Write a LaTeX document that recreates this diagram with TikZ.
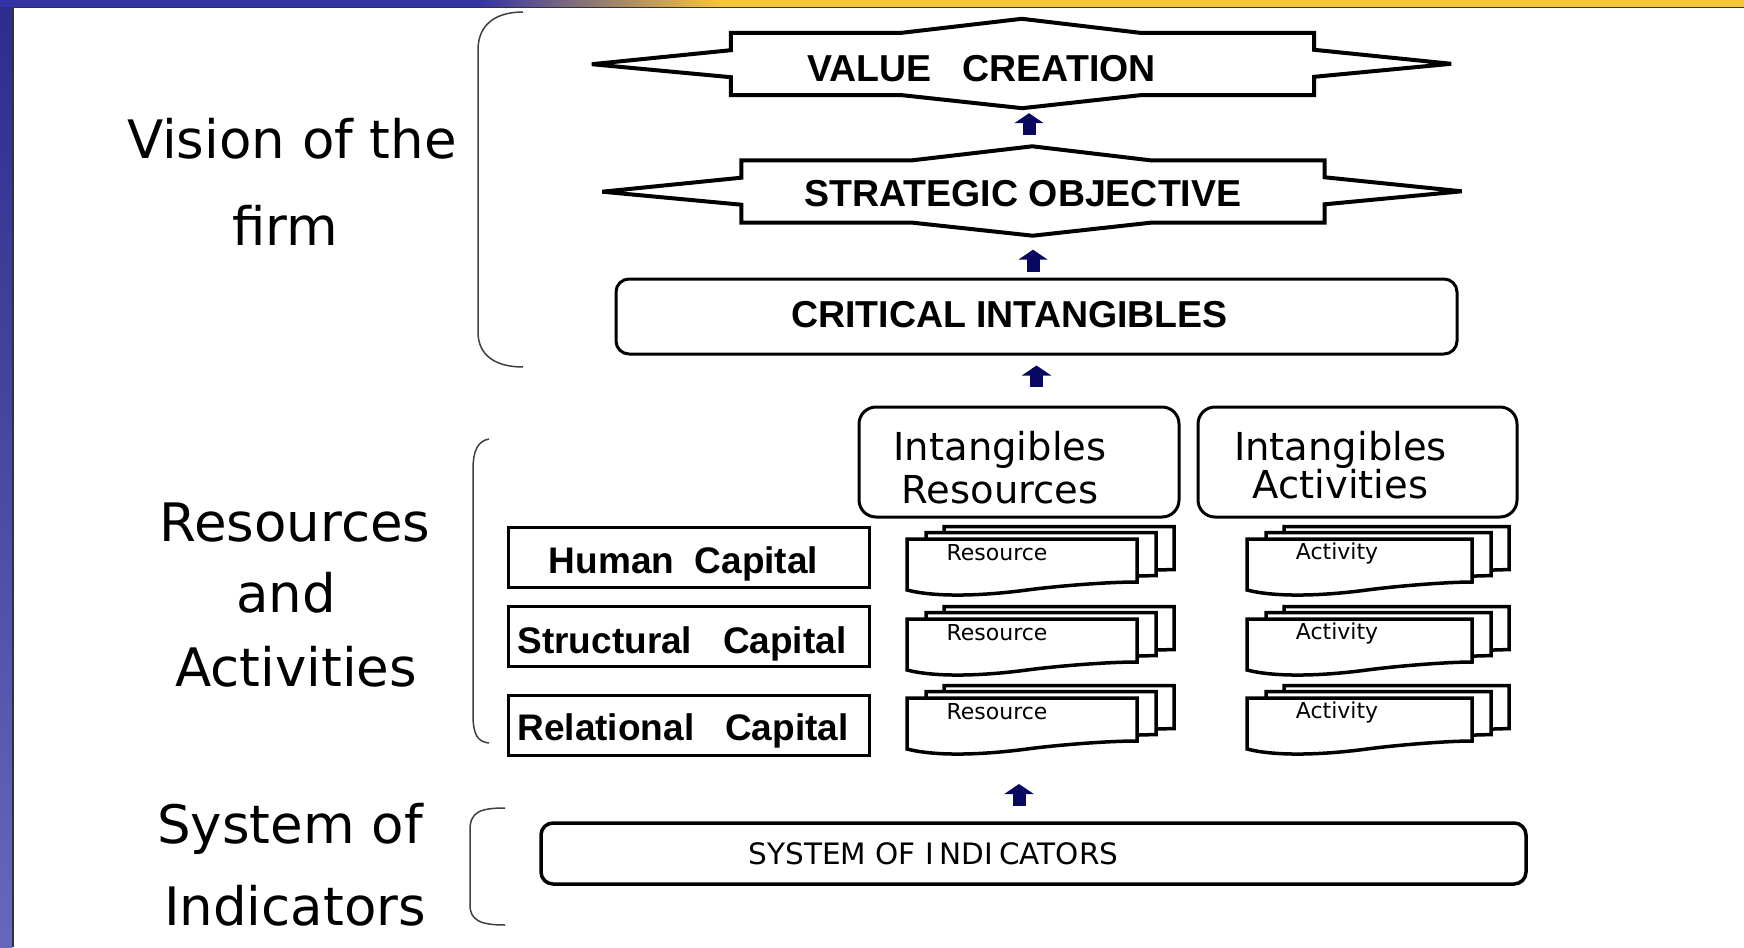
\documentclass[tikz,border=0pt]{standalone}
\usepackage{fontspec}
\setmainfont{Liberation Sans}
\newfontfamily\dejavu{DejaVu Sans}
\usetikzlibrary{arrows.meta}

\definecolor{slideblue}{RGB}{52,52,165}
\definecolor{slidegold}{RGB}{248,196,58}
\definecolor{arrownavy}{RGB}{8,8,96}

\tikzset{
  bracket/.style={draw=black!75, line width=1.5pt},
  hexline/.style={line width=4pt, line join=miter},
  hexnode/.style={minimum width=583pt, minimum height=62pt, inner sep=0pt},
  bigcaps/.style={font=\fontsize{37.5}{44}\selectfont\bfseries},
  roundbox/.style={draw, line width=3pt, rounded corners=#1, inner sep=0pt},
  roundbox/.default=13pt,
  capbox/.style={draw, line width=3pt, minimum width=361pt, minimum height=60pt, inner sep=0pt},
  captext/.style={font=\fontsize{37}{44}\selectfont\bfseries},
  sidetext/.style={font=\dejavu\fontsize{53}{60}\selectfont},
  page/.style={draw, fill=white, line width=3.5pt, line join=miter},
  doctext/.style={font=\dejavu\fontsize{22}{26}\selectfont},
  uparrow/.style={draw=arrownavy, line width=13pt, -{Triangle[width=29pt,length=10pt]}}
}

\begin{document}
\begin{tikzpicture}[x=1pt, y=-1pt]
% slide frame
\useasboundingbox (0,0) rectangle (1744,947);
\fill[white] (0,0) rectangle (1744,947);
\shade[top color=slideblue!85!black, bottom color=slideblue!75!white] (0,0) rectangle (12,947);
\fill[slideblue] (0,0) rectangle (480,7);
\shade[left color=slideblue, right color=slidegold] (480,0) rectangle (720,7);
\fill[slidegold] (720,0) rectangle (1744,7);
\draw[line width=2pt, black!80] (13,8) -- (13,947);
\draw[line width=1.5pt, black!80] (12,7.5) -- (1744,7.5);

% left column
\node[sidetext] (vision) at (292,139) {Vision of the};
\node[sidetext] (firm) at (285,225) {firm};
\node[sidetext] (res) at (295,523) {Resources};
\node[sidetext] (and) at (286,593) {and};
\node[sidetext] (act) at (296,667) {Activities};
\node[sidetext] (sys) at (290,829) {System of};
\node[sidetext] (ind) at (295,906) {Indicators};

\draw[bracket] (523,12) .. controls (495,12) and (478,25) .. (478,50) -- (478,332)
  .. controls (478,355) and (495,367) .. (523,367);
\draw[bracket] (489,439) .. controls (478,441) and (473,450) .. (473,470) -- (473,715)
  .. controls (473,735) and (478,742) .. (489,743);
\draw[bracket] (505,808) .. controls (480,808) and (470,812) .. (470,830) -- (470,905)
  .. controls (470,920) and (480,925) .. (505,925);

% vision of the firm
\node[hexnode, label={[bigcaps, xshift=-41pt, yshift=-4.5pt]center:{VALUE\ \ \ CREATION}}] (vc) at (1022.5,64) {};
\node[hexnode, label={[bigcaps, xshift=-10pt, yshift=-2pt]center:{STRATEGIC OBJECTIVE}}] (so) at (1033,191.5) {};
\foreach \h in {vc,so}
  \draw[hexline] (\h.north west) -- ++(171,0) -- ++(120,-14) -- ++(118,14) -- (\h.north east)
    -- ++(0,17) -- ++(137,14) -- ++(-137,13) -- (\h.south east) -- ++(-174,0) -- ++(-118,13)
    -- ++(-120,-13) -- (\h.south west) -- ++(0,-18) -- ++(-139,-13) -- ++(139,-14) -- cycle;
\node[roundbox, minimum width=841pt, minimum height=75pt,
  label={[bigcaps, xshift=-27pt, yshift=2pt]center:{CRITICAL INTANGIBLES}}] (ci) at (1036.5,316.5) {};

% resources and activities
\node[roundbox=17pt, minimum width=320pt, minimum height=110pt,
  label={[font=\dejavu\fontsize{38.5}{43}\selectfont, align=center, xshift=-19pt, yshift=-5.5pt]center:{Intangibles\\Resources}}] (ir) at (1019,462) {};
\node[roundbox=17pt, minimum width=319pt, minimum height=110pt,
  label={[font=\dejavu\fontsize{38.5}{36}\selectfont, align=center, xshift=-17pt, yshift=-3pt]center:{Intangibles\\Activities}}] (ia) at (1357.5,462) {};

\node[capbox, label={[captext, xshift=-5pt, yshift=-6.5pt]center:{Human\ \ Capital}}] (human) at (688.5,557) {};
\node[capbox, label={[captext, xshift=-6.5pt, yshift=-7.5pt]center:{Structural\ \ \ Capital}}] (struct) at (688.5,636) {};
\node[capbox, label={[captext, xshift=-5.5pt, yshift=-5.5pt]center:{Relational\ \ \ Capital}}] (relat) at (688.5,725.5) {};

\foreach \ty [count=\r] in {539,619,698} {
  \foreach \tx/\w/\kind in {907/230/Resource, 1247/225/Activity} {
    \foreach \d in {37,19,0}
      \draw[page] (\tx+\d, \ty-\d/3) -- (\tx+\d+\w, \ty-\d/3) -- (\tx+\d+\w, \ty-\d/3+43)
        .. controls (\tx+\d+200, \ty-\d/3+43) and (\tx+\d+150, \ty-\d/3+47) .. (\tx+\d+120, \ty-\d/3+51)
        .. controls (\tx+\d+90, \ty-\d/3+55) and (\tx+\d+35, \ty-\d/3+60) .. (\tx+\d, \ty-\d/3+51) -- cycle;
    \node[doctext] (\kind\r) at (\tx+90,\ty+14) {\kind};
  }
}
\coordinate (stackbase) at (1019,759);

% system of indicators
\node[roundbox=12pt, line width=3.5pt, minimum width=985pt, minimum height=61pt,
  label={[font=\dejavu\fontsize{29.5}{34}\selectfont, xshift=-100pt]center:{SYSTEM OF I\kern6pt NDI\kern6pt CATORS}}] (soi) at (1033.5,853.5) {};

% arrows
\draw[uparrow, shorten <=25pt, shorten >=18pt] ([xshift=6.5pt]vc.south |- so.north) -- ([xshift=6.5pt]vc.south);
\draw[uparrow, shorten <=6pt, shorten >=27pt] (so.south |- ci.north) -- (so.south);
\draw[uparrow, shorten <=19pt, shorten >=10pt] (ci.south |- ir.north) -- (ci.south);
\draw[uparrow, shorten <=15pt, shorten >=25pt] (soi.north -| stackbase) -- (stackbase);
\end{tikzpicture}
\end{document}
